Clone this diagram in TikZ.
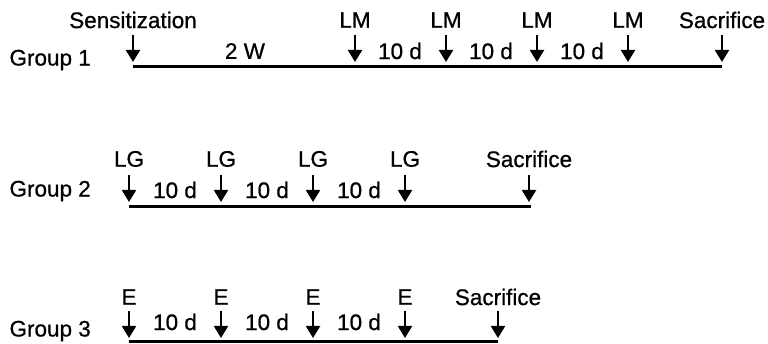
\documentclass[tikz,border=0pt]{standalone}
\usepackage{fontspec}
\setmainfont[FakeBold=0.7]{Liberation Sans}
\usetikzlibrary{arrows.meta}

\begin{document}
\begin{tikzpicture}[x=1pt,y=-1pt,font=\fontsize{22.5}{26}\selectfont,
        dose/.style={line width=2.2pt,-{Triangle[width=14pt,length=12pt]}},
        span/.style={line width=3pt}]
    \useasboundingbox (0,0) rectangle (768,344);
    % group 1
    \node[anchor=west] (grp1) at (6,60) {Group 1};
    \foreach \x/\t [count=\i] in {133/Sensitization,355/LM,446/LM,537/LM,628/LM,722/Sacrifice}{
        \node (g1l\i) at (\x,20) {\t};
        \coordinate (g1a\i) at (\x,35);
        \coordinate (g1b\i) at (\x,62);
        \draw[dose] (g1a\i) -- (g1b\i);
    }
    \coordinate (g1s) at (133,67);
    \coordinate (g1e) at (722,67);
    \draw[span] (g1s) -- (g1e);
    \node (g1w) at (245,51) {2 W};
    \foreach \x [count=\i] in {400,491,582}
        \node (g1d\i) at (\x,51) {10 d};
    % group 2
    \node[anchor=west] (grp2) at (6,191) {Group 2};
    \foreach \x/\t [count=\i] in {129/LG,221/LG,313/LG,405/LG,529/Sacrifice}{
        \node (g2l\i) at (\x,159) {\t};
        \coordinate (g2a\i) at (\x,175);
        \coordinate (g2b\i) at (\x,202);
        \draw[dose] (g2a\i) -- (g2b\i);
    }
    \coordinate (g2s) at (129,207);
    \coordinate (g2e) at (531,207);
    \draw[span] (g2s) -- (g2e);
    \foreach \x [count=\i] in {175,267,359}
        \node (g2d\i) at (\x,190) {10 d};
    % group 3
    \node[anchor=west] (grp3) at (6,331) {Group 3};
    \foreach \x/\t [count=\i] in {129/E,221/E,313/E,405/E,498/Sacrifice}{
        \node (g3l\i) at (\x,297) {\t};
        \coordinate (g3a\i) at (\x,311);
        \coordinate (g3b\i) at (\x,338);
        \draw[dose] (g3a\i) -- (g3b\i);
    }
    \coordinate (g3s) at (129,342);
    \coordinate (g3e) at (498,342);
    \draw[span] (g3s) -- (g3e);
    \foreach \x [count=\i] in {175,267,359}
        \node (g3d\i) at (\x,322) {10 d};
\end{tikzpicture}
\end{document}
